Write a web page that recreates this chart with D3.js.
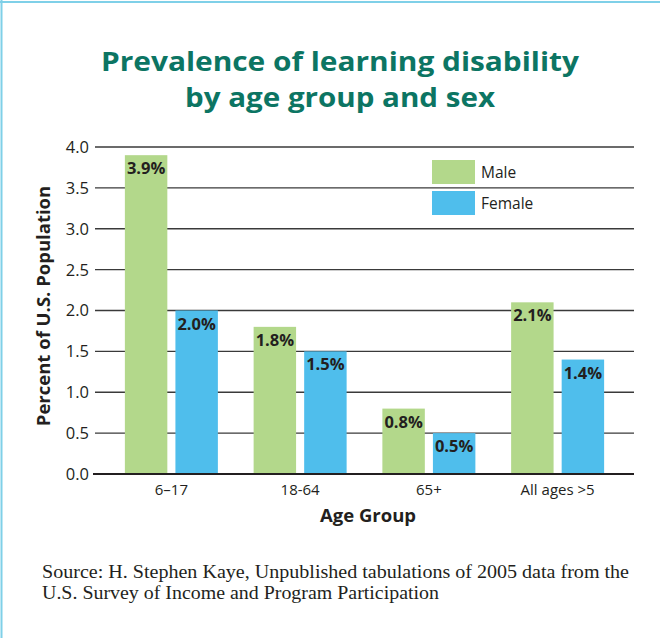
<!DOCTYPE html>
<html><head><meta charset="utf-8">
<script src="https://cdn.jsdelivr.net/npm/d3@7"></script>
<style>body{margin:0;background:#fff}svg{display:block}</style>
</head><body>
<svg id="c" width="660" height="638"></svg>
<script>
const categories = ["6–17", "18-64", "65+", "All ages >5"];
const seriesNames = ["Male", "Female"];
const maleValues = [3.9, 1.8, 0.8, 2.1];
const femaleValues = [2.0, 1.5, 0.5, 1.4];
const yTicks = [0, 0.5, 1, 1.5, 2, 2.5, 3, 3.5, 4];
const colors = {Male: "#b3d88b", Female: "#4fbeec"};

const data = categories.map((c, i) => ({cat: c, Male: maleValues[i], Female: femaleValues[i]}));
const svg = d3.select("#c");
const ink = "#231f20";

// border
svg.append("line").attr("x1",0).attr("x2",660).attr("y1",2).attr("y2",2).attr("stroke","#7fd0e8").attr("stroke-width",2);
svg.append("line").attr("x1",1.5).attr("x2",1.5).attr("y1",0).attr("y2",638).attr("stroke","#7fd0e8").attr("stroke-width",2);

// title
const title = svg.append("text").attr("x",340).attr("text-anchor","middle")
  .attr("font-family","Open Sans").attr("font-weight",700).attr("font-size",27).attr("fill","#0c7563");
title.append("tspan").attr("x",340).attr("y",71).attr("textLength",478).attr("lengthAdjust","spacingAndGlyphs").text("Prevalence of learning disability");
title.append("tspan").attr("x",340).attr("y",107).attr("textLength",310).attr("lengthAdjust","spacingAndGlyphs").text("by age group and sex");

const y = d3.scaleLinear().domain([0,4]).range([474,147]);
const x0 = d3.scaleBand().domain(categories).range([107,622]);
const x1 = d3.scaleBand().domain(seriesNames).range([x0.bandwidth()/2-46.5, x0.bandwidth()/2+46.5]).paddingInner(0.16);

// gridlines + y axis
const yAxis = d3.axisLeft(y).tickValues(yTicks).tickFormat(d3.format(".1f")).tickSize(0).tickPadding(6);
const gy = svg.append("g").attr("transform","translate(95,0)").call(yAxis);
gy.select(".domain").remove();
gy.selectAll("text").attr("font-family","Open Sans").attr("font-size",16.5).attr("fill",ink).attr("dy","0.33em");
svg.append("g").selectAll("line").data(yTicks.filter(t=>t>0)).join("line")
  .attr("x1",95).attr("x2",634).attr("y1",d=>y(d)).attr("y2",d=>y(d))
  .attr("stroke","#3a3a3a").attr("stroke-width",1.4);

// legend
const lg = svg.append("g");
seriesNames.forEach((s,i)=>{
  lg.append("rect").attr("x",432).attr("y",160+i*31).attr("width",43).attr("height",24).attr("fill",colors[s]);
  lg.append("text").attr("x",481).attr("y",178+i*31).attr("font-family","Open Sans").attr("font-size",15.5).attr("fill",ink).text(s);
});

// bars
const groups = svg.append("g").selectAll("g").data(data).join("g")
  .attr("transform", d=>`translate(${x0(d.cat)},0)`);
groups.selectAll("rect").data(d=>seriesNames.map(s=>({s, v:d[s]}))).join("rect")
  .attr("x",d=>x1(d.s)).attr("width",x1.bandwidth())
  .attr("y",d=>y(d.v)).attr("height",d=>y(0)-y(d.v)).attr("fill",d=>colors[d.s]);
groups.selectAll("text").data(d=>seriesNames.map(s=>({s, v:d[s]}))).join("text")
  .attr("x",d=>x1(d.s)+x1.bandwidth()/2).attr("y",d=>y(d.v)+19)
  .attr("text-anchor","middle").attr("font-family","Open Sans").attr("font-weight",700)
  .attr("font-size",16.5).attr("fill",ink).text(d=>d.v.toFixed(1)+"%");

// baseline
svg.append("line").attr("x1",93).attr("x2",634).attr("y1",y(0)).attr("y2",y(0)).attr("stroke",ink).attr("stroke-width",2.2);

// x axis labels
const xAxis = d3.axisBottom(x0).tickSize(0).tickPadding(10);
const gx = svg.append("g").attr("transform",`translate(0,${y(0)})`).call(xAxis);
gx.select(".domain").remove();
gx.selectAll("text").attr("font-family","Open Sans").attr("font-size",15).attr("fill",ink);

svg.append("text").attr("x",368).attr("y",522).attr("text-anchor","middle")
  .attr("font-family","Open Sans").attr("font-weight",700).attr("font-size",18.5).attr("fill",ink).text("Age Group");
svg.append("text").attr("transform","translate(50,306) rotate(-90)").attr("text-anchor","middle")
  .attr("font-family","Open Sans").attr("font-weight",700).attr("font-size",18.5).attr("fill",ink).text("Percent of U.S. Population");

// source
const src = svg.append("text").attr("font-family","Liberation Serif").attr("font-size",18).attr("fill",ink);
src.append("tspan").attr("x",42).attr("y",578).attr("textLength",587).attr("lengthAdjust","spacingAndGlyphs").text("Source: H. Stephen Kaye, Unpublished tabulations of 2005 data from the");
src.append("tspan").attr("x",42).attr("y",599).attr("textLength",397).attr("lengthAdjust","spacingAndGlyphs").text("U.S. Survey of Income and Program Participation");
</script>
</body></html>
